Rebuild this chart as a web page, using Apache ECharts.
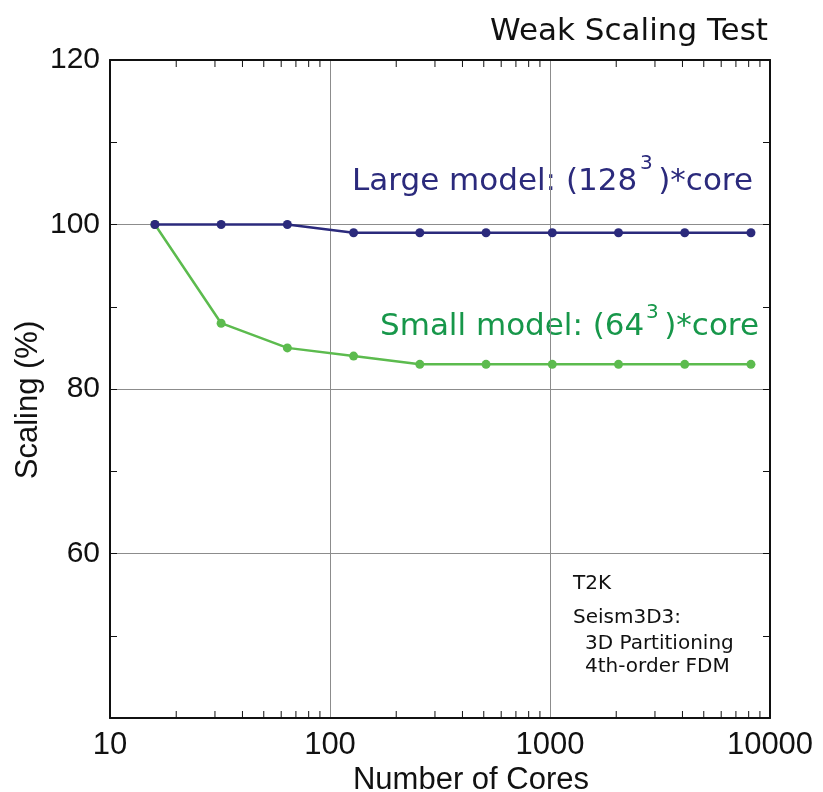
<!DOCTYPE html>
<html><head><meta charset="utf-8">
<script src="https://cdn.jsdelivr.net/npm/echarts@6/dist/echarts.min.js"></script>
<style>html,body{margin:0;padding:0;background:#fff}#c{width:823px;height:792px}</style>
</head><body><div id="c"></div>
<script>
// ---- data ----
const cores = [16, 32, 64, 128, 256, 512, 1024, 2048, 4096, 8192];
const largeModel = [100, 100, 100, 99, 99, 99, 99, 99, 99, 99];
const smallModel = [100, 88, 85, 84, 83, 83, 83, 83, 83, 83];
const xMinorTicks = [20, 30, 40, 50, 60, 70, 80, 90, 200, 300, 400, 500, 600, 700, 800, 900,
                     2000, 3000, 4000, 5000, 6000, 7000, 8000, 9000];
const xTickLabels = ['10', '100', '1000', '10000'];
const yTickLabels = ['60', '80', '100', '120'];
const titleText = 'Weak Scaling Test';
const xName = 'Number of Cores';
const yName = 'Scaling (%)';
const noteLines = ['T2K', 'Seism3D3:', '3D Partitioning', '4th-order FDM'];

const NAVY = '#2b2a7c', GREEN_LINE = '#5cbb4e', GREEN_TEXT = '#17974a', INK = '#111';
const LAB = 'Liberation Sans', WIDE = 'DejaVu Sans';

const chart = echarts.init(document.getElementById('c'), null, {renderer: 'canvas'});
const axisLine = {show: true, onZero: false, lineStyle: {color: INK, width: 2}};

const option = {
  animation: false,
  backgroundColor: '#fff',
  grid: {left: 110, right: 53, top: 60, bottom: 74, containLabel: false},
  xAxis: [
    {type: 'log', logBase: 10, min: 10, max: 10000, position: 'bottom',
     axisLine, axisTick: {show: false},
     axisLabel: {fontFamily: LAB, fontSize: 31, color: INK, margin: 12,
       formatter: v => xTickLabels.includes(String(Math.round(v))) ? String(Math.round(v)) : ''},
     splitLine: {show: true, lineStyle: {color: '#8c8c8c', width: 1}}},
    {type: 'log', logBase: 10, min: 10, max: 10000, position: 'top',
     axisLine, axisTick: {show: false}, axisLabel: {show: false}, splitLine: {show: false}}
  ],
  yAxis: [
    {type: 'value', min: 40, max: 120, interval: 20, position: 'left',
     axisLine, axisTick: {show: true, inside: true, length: 7, lineStyle: {color: INK, width: 1}},
     minorTick: {show: true, splitNumber: 2, length: 7, lineStyle: {color: INK, width: 1}},
     axisLabel: {fontFamily: LAB, fontSize: 30, color: INK, margin: 10,
       formatter: v => yTickLabels.includes(String(v)) ? String(v) : ''},
     splitLine: {show: true, lineStyle: {color: '#8c8c8c', width: 1}}},
    {type: 'value', min: 40, max: 120, interval: 20, position: 'right',
     axisLine, axisTick: {show: true, inside: true, length: 7, lineStyle: {color: INK, width: 1}},
     minorTick: {show: true, splitNumber: 2, length: 7, lineStyle: {color: INK, width: 1}},
     axisLabel: {show: false}, splitLine: {show: false}}
  ],
  series: [
    {type: 'custom', name: 'minorTicks', xAxisIndex: 0, yAxisIndex: 0, silent: true, clip: false, z: 5,
     data: xMinorTicks.map(v => [v]),
     renderItem: (params, api) => {
       const v = api.value(0);
       const b = api.coord([v, 40]);
       const t = api.coord([v, 120]);
       const st = {stroke: INK, lineWidth: 1};
       return {type: 'group', children: [
         {type: 'line', shape: {x1: b[0], y1: b[1], x2: b[0], y2: b[1] - 7}, style: st},
         {type: 'line', shape: {x1: t[0], y1: t[1], x2: t[0], y2: t[1] + 7}, style: st}
       ]};
     }},
    {type: 'line', name: 'Small model', data: cores.map((c, i) => [c, smallModel[i]]),
     symbol: 'circle', symbolSize: 9, itemStyle: {color: GREEN_LINE},
     lineStyle: {color: GREEN_LINE, width: 2.5}, z: 3},
    {type: 'line', name: 'Large model', data: cores.map((c, i) => [c, largeModel[i]]),
     symbol: 'circle', symbolSize: 9, itemStyle: {color: NAVY},
     lineStyle: {color: NAVY, width: 2.5}, z: 4}
  ],
  graphic: [
    {type: 'text', x: 768, y: 32, style: {text: titleText, fontFamily: WIDE, fontSize: 31, fill: INK,
      textAlign: 'right', textVerticalAlign: 'middle'}},
    {type: 'text', x: 28, y: 400, rotation: Math.PI / 2, style: {text: yName, fontFamily: LAB, fontSize: 31,
      fill: INK, textAlign: 'center', textVerticalAlign: 'middle'}},
    {type: 'text', x: 471, y: 780, style: {text: xName, fontFamily: LAB, fontSize: 31, fill: INK,
      textAlign: 'center', textVerticalAlign: 'middle'}},
    // Large model annotation
    {type: 'text', x: 352, y: 182, style: {text: 'Large model: (128', fontFamily: WIDE, fontSize: 31, fill: NAVY,
      textAlign: 'left', textVerticalAlign: 'middle'}},
    {type: 'text', x: 640, y: 164, style: {text: '3', fontFamily: WIDE, fontSize: 20, fill: NAVY,
      textAlign: 'left', textVerticalAlign: 'middle'}},
    {type: 'text', x: 753, y: 182, style: {text: ')*core', fontFamily: WIDE, fontSize: 31, fill: NAVY,
      textAlign: 'right', textVerticalAlign: 'middle'}},
    // Small model annotation
    {type: 'text', x: 380, y: 327, style: {text: 'Small model: (64', fontFamily: WIDE, fontSize: 31, fill: GREEN_TEXT,
      textAlign: 'left', textVerticalAlign: 'middle'}},
    {type: 'text', x: 646, y: 313, style: {text: '3', fontFamily: WIDE, fontSize: 20, fill: GREEN_TEXT,
      textAlign: 'left', textVerticalAlign: 'middle'}},
    {type: 'text', x: 759, y: 327, style: {text: ')*core', fontFamily: WIDE, fontSize: 31, fill: GREEN_TEXT,
      textAlign: 'right', textVerticalAlign: 'middle'}},
    // notes
    {type: 'text', x: 573, y: 584, style: {text: noteLines[0], fontFamily: WIDE, fontSize: 20, fill: INK, textVerticalAlign: 'middle'}},
    {type: 'text', x: 573, y: 618, style: {text: noteLines[1], fontFamily: WIDE, fontSize: 20, fill: INK, textVerticalAlign: 'middle'}},
    {type: 'text', x: 585, y: 644, style: {text: noteLines[2], fontFamily: WIDE, fontSize: 20, fill: INK, textVerticalAlign: 'middle'}},
    {type: 'text', x: 585, y: 667, style: {text: noteLines[3], fontFamily: WIDE, fontSize: 20, fill: INK, textVerticalAlign: 'middle'}}
  ]
};
chart.setOption(option);
</script></body></html>
